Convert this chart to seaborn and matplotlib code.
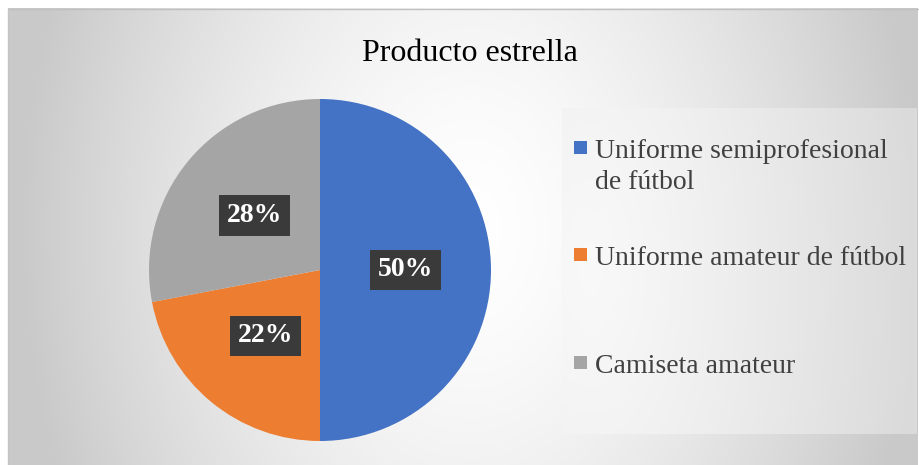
import numpy as np
import matplotlib
matplotlib.use("Agg")
import matplotlib.pyplot as plt
import seaborn as sns
from matplotlib.patches import Rectangle

categories = ["Uniforme semiprofesional\nde fútbol", "Uniforme amateur de fútbol", "Camiseta amateur"]
values = [50, 22, 28]
colors = ["#4472C4", "#ED7D31", "#A5A5A5"]
title = "Producto estrella"

sns.set_theme(style="white")
plt.rcParams['font.family'] = ['Liberation Serif', 'DejaVu Serif']
plt.rcParams['hatch.color'] = '#555555'
plt.rcParams['hatch.linewidth'] = 1.5

W, H = 920, 465
fig = plt.figure(figsize=(9.2, 4.65), dpi=100)
fig.patch.set_facecolor("white")

bg = fig.add_axes([0, 0, 1, 1])
bg.axis("off")

def radial(x0, x1, y0, y1, cx, cy, rx, ry, cin, cout, p, n=300):
    xs = np.linspace(x0, x1, n)
    ys = np.linspace(y0, y1, n)
    X, Y = np.meshgrid(xs, ys)
    d = np.clip(np.hypot((X - cx) / rx, (Y - cy) / ry), 0, 1)
    v = cin + (cout - cin) * d ** p
    return np.dstack([v, v, v])

# chart area
img = radial(8, 918, 9, 465, 470, 230, 450, 620, 1.0, 0.79, 1.5)
bg.imshow(img, extent=(8, 918, 465, 9), aspect="auto", interpolation="bilinear", zorder=0)
bg.plot([8, 918], [9, 9], color="#c0c0c0", lw=1, zorder=1)
bg.plot([8, 8], [9, 465], color="#c4c4c4", lw=1, zorder=1)

# legend box
img2 = radial(562, 917, 109, 434, 590, 270, 330, 700, 0.975, 0.855, 1.2)
bg.imshow(img2, extent=(562, 917, 434, 109), aspect="auto", interpolation="bilinear", zorder=2)
bg.set_xlim(0, W)
bg.set_ylim(H, 0)

# title
bg.text(470, 61, title, ha="center", va="baseline", fontsize=23, color="#000000", zorder=5)

# pie
cx, cy, r = 320, 270, 171
ax = fig.add_axes([(cx - r) / W, (H - cy - r) / H, 2 * r / W, 2 * r / H])
ax.set_facecolor("none")
wedges, texts, autotexts = ax.pie(values, colors=colors, startangle=90, counterclock=False,
                                  autopct="%d%%", pctdistance=0.5, radius=1,
                                  wedgeprops=dict(linewidth=0),
                                  textprops=dict(color="white", fontsize=20, fontweight="bold"))
for t in autotexts:
    t.set_bbox(dict(boxstyle="square,pad=0.28", fc="#3a3a3a", ec="none", hatch=".."))
ax.set_xlim(-1, 1)
ax.set_ylim(-1, 1)
ax.set_aspect("equal")
ax.axis("off")

# legend
baselines = [158, 265, 373]
for lab, col, yb in zip(categories, colors, baselines):
    bg.add_patch(Rectangle((574, yb - 17), 13, 13, fc=col, ec="none", zorder=6))
    for i, line in enumerate(lab.split("\n")):
        bg.text(595, yb + 31 * i, line, ha="left", va="baseline", fontsize=20,
                color="#404040", zorder=6)

fig.savefig("out.png", dpi=100)
